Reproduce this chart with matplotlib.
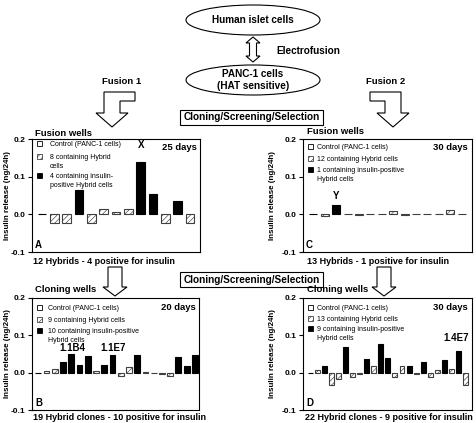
import matplotlib.pyplot as plt
from matplotlib.patches import Ellipse, Rectangle, Polygon

plt.rcParams['font.family'] = ['Liberation Sans', 'DejaVu Sans']
plt.rcParams['hatch.linewidth'] = 0.45

W, H = 477, 423

# bar values (ng/24h) and kind: c = control, h = hybrid, p = insulin-positive hybrid
a_vals = [0, -0.024, -0.024, 0.064, -0.024, 0.013, 0.006, 0.013, 0.139, 0.053, -0.024, 0.036, -0.024]
a_kind = ['c', 'h', 'h', 'p', 'h', 'h', 'h', 'h', 'p', 'p', 'h', 'p', 'h']
b_vals = [0, 0.004, 0.009, 0.029, 0.05, 0.02, 0.044, 0.004, 0.02, 0.047,
          -0.01, 0.014, 0.046, 0.003, 0, -0.003, -0.008, 0.043, 0.019, 0.047]
b_kind = ['c', 'h', 'h', 'p', 'p', 'p', 'p', 'h', 'p', 'p',
          'h', 'h', 'p', 'h', 'h', 'h', 'h', 'p', 'p', 'p']
c_vals = [0, -0.004, 0.024, 0, -0.003, 0, 0, 0.01, -0.003, 0, 0, 0, 0.012, 0]
c_kind = ['c', 'h', 'p', 'h', 'h', 'h', 'h', 'h', 'h', 'h', 'h', 'h', 'h', 'h']
d_vals = [0, 0.007, 0.017, -0.033, -0.018, 0.068, -0.012, -0.003, 0.037, 0.017, 0.078, 0.04,
          -0.011, 0.017, 0.017, -0.004, 0.028, -0.011, 0.008, 0.033, 0.009, 0.057, -0.032]
d_kind = ['c', 'h', 'p', 'h', 'h', 'p', 'h', 'h', 'p', 'h', 'p', 'p',
          'h', 'h', 'p', 'h', 'p', 'h', 'h', 'p', 'h', 'p', 'h']

yticks = [-0.1, 0.0, 0.1, 0.2]
yticklabels = ['-0.1', '0.0', '0.1', '0.2']

STYLE = {
    'c': dict(facecolor='white', edgecolor='black', hatch=None),
    'h': dict(facecolor='white', edgecolor='0.25', hatch='//////'),
    'p': dict(facecolor='black', edgecolor='black', hatch=None),
}

fig = plt.figure(figsize=(W / 100, H / 100), dpi=100)


def panel(box, vals, kind, xlim):
    x0, y0, x1, y1 = box
    ax = fig.add_axes([x0 / W, 1 - y1 / H, (x1 - x0) / W, (y1 - y0) / H])
    for i, (v, k) in enumerate(zip(vals, kind)):
        ax.bar(i, v, width=0.7, linewidth=0.8, **STYLE[k])
    ax.set_xlim(*xlim)
    ax.set_ylim(-0.1, 0.2)
    ax.set_xticks([])
    ax.set_yticks(yticks)
    ax.set_yticklabels(yticklabels, fontsize=6, fontweight='bold')
    ax.tick_params(axis='y', length=3, width=0.8, pad=1.5)
    for s in ax.spines.values():
        s.set_linewidth(0.8)
    return ax


axA = panel((32, 139, 200, 252), a_vals, a_kind, (-0.8, 12.8))
axC = panel((303, 139, 472, 252), c_vals, c_kind, (-0.9, 13.9))
axB = panel((32, 298, 199, 410), b_vals, b_kind, (-0.75, 19.5))
axD = panel((303, 298, 472, 410), d_vals, d_kind, (-1.0, 22.9))

axA.text(8, 0.185, 'X', ha='center', va='center', fontsize=7, fontweight='bold')
axC.text(2, 0.05, 'Y', ha='center', va='center', fontsize=7, fontweight='bold')
axB.text(4.2, 0.067, '1.1B4', ha='center', va='center', fontsize=7, fontweight='bold')
axB.text(9.1, 0.067, '1.1E7', ha='center', va='center', fontsize=7, fontweight='bold')
axD.text(20.6, 0.093, '1.4E7', ha='center', va='center', fontsize=7, fontweight='bold')

# overlay in pixel coordinates for the diagram and annotations
ov = fig.add_axes([0, 0, 1, 1])
ov.set_xlim(0, W)
ov.set_ylim(H, 0)
ov.axis('off')
ov.patch.set_alpha(0)

bold = dict(fontweight='bold', color='black')

ov.add_patch(Ellipse((253, 20), 134, 30, facecolor='white', edgecolor='black', linewidth=0.8))
ov.text(253, 20, 'Human islet cells', ha='center', va='center', fontsize=7.2, **bold)
ov.add_patch(Ellipse((253, 80), 134, 30, facecolor='white', edgecolor='black', linewidth=0.8))
ov.text(253, 80, 'PANC-1 cells\n(HAT sensitive)', ha='center', va='center', fontsize=7.2,
        linespacing=1.2, **bold)
ov.text(276, 51, 'Electrofusion', ha='left', va='center', fontsize=7.2, **bold)

# double headed hollow arrow
dx, sw, hw, hl = 253, 3.5, 7, 6
ov.add_patch(Polygon([(dx, 37), (dx + hw, 37 + hl), (dx + sw, 37 + hl), (dx + sw, 62 - hl),
                      (dx + hw, 62 - hl), (dx, 62), (dx - hw, 62 - hl), (dx - sw, 62 - hl),
                      (dx - sw, 37 + hl), (dx - hw, 37 + hl)],
                     closed=True, facecolor='white', edgecolor='black', linewidth=0.8))

ov.text(122, 81, 'Fusion 1', ha='center', va='center', fontsize=6.8, **bold)
ov.text(386, 81, 'Fusion 2', ha='center', va='center', fontsize=6.8, **bold)


def bent_arrow(cx, side):
    # side = +1 : tail bends right, -1 : bends left
    s = side
    pts = [(cx - 8 * s, 92), (cx + 23 * s, 92), (cx + 23 * s, 101), (cx + 8 * s, 101),
           (cx + 8 * s, 113), (cx + 16 * s, 113), (cx, 127), (cx - 16 * s, 113), (cx - 8 * s, 113)]
    ov.add_patch(Polygon(pts, closed=True, facecolor='white', edgecolor='black', linewidth=0.8))


bent_arrow(112, 1)
bent_arrow(393, -1)


def down_arrow(cx, ytop, ybot):
    pts = [(cx - 7, ytop), (cx + 7, ytop), (cx + 7, ybot - 9), (cx + 12, ybot - 9), (cx, ybot),
           (cx - 12, ybot - 9), (cx - 7, ybot - 9)]
    ov.add_patch(Polygon(pts, closed=True, facecolor='white', edgecolor='black', linewidth=0.8))


down_arrow(115, 267, 296)
down_arrow(384, 267, 296)

for yc in (117.5, 280):
    ov.add_patch(Rectangle((180, yc - 7.5), 143, 15, facecolor='white', edgecolor='black', linewidth=0.8))
    ov.text(251.5, yc, 'Cloning/Screening/Selection', ha='center', va='center', fontsize=7.2, **bold)

# panel titles, day labels, letters, captions
titles = [(35, 133, 'Fusion wells'), (307, 132, 'Fusion wells'),
          (35, 290, 'Cloning wells'), (307, 290, 'Cloning wells')]
for x, y, t in titles:
    ov.text(x, y, t, ha='left', va='center', fontsize=6.8, **bold)

days = [(197, 148, '25 days'), (196, 307, '20 days'), (468, 148, '30 days'), (468, 307, '30 days')]
for x, y, t in days:
    ov.text(x, y, t, ha='right', va='center', fontsize=6.8, **bold)

letters = [(35, 245, 'A'), (35, 403, 'B'), (306, 245, 'C'), (306, 403, 'D')]
for x, y, t in letters:
    ov.text(x, y, t, ha='left', va='center', fontsize=7, **bold)

captions = [(33, 261, '12 Hybrids - 4 positive for insulin'),
            (33, 418, '19 Hybrid clones - 10 positive for insulin'),
            (307, 261, '13 Hybrids - 1 positive for insulin'),
            (305, 418, '22 Hybrid clones - 9 positive for insulin')]
for x, y, t in captions:
    ov.text(x, y, t, ha='left', va='center', fontsize=6.5, **bold)

for x, yc in [(8, 195.5), (8, 354), (273, 195.5), (273, 354)]:
    ov.text(x, yc, 'Insulin release (ng/24h)', ha='center', va='center', rotation=90,
            fontsize=5.8, **bold)

# legends
legends = [
    (37, 50, [('c', 144, 'Control (PANC-1 cells)'), ('h', 157, '8 containing Hybrid\ncells'),
              ('p', 176, '4 containing insulin-\npositive Hybrid cells')]),
    (37, 48, [('c', 308, 'Control (PANC-1 cells)'), ('h', 320, '9 containing Hybrid cells'),
              ('p', 331, '10 containing insulin-positive\nHybrid cells')]),
    (308, 317, [('c', 147, 'Control (PANC-1 cells)'), ('h', 159, '12 containing Hybrid cells'),
                ('p', 170, '1 containing insulin-positive\nHybrid cells')]),
    (308, 317, [('c', 308, 'Control (PANC-1 cells)'), ('h', 319, '13 containing Hybrid cells'),
                ('p', 329, '9 containing insulin-positive\nHybrid cells')]),
]
for mx, tx, rows in legends:
    for k, y, t in rows:
        ov.add_patch(Rectangle((mx, y - 2.5), 5, 5, linewidth=0.6, **STYLE[k]))
        ov.text(tx, y - 3.2, t, ha='left', va='top', fontsize=5, linespacing=1.35, color='black')

fig.savefig('out.png', dpi=100)
